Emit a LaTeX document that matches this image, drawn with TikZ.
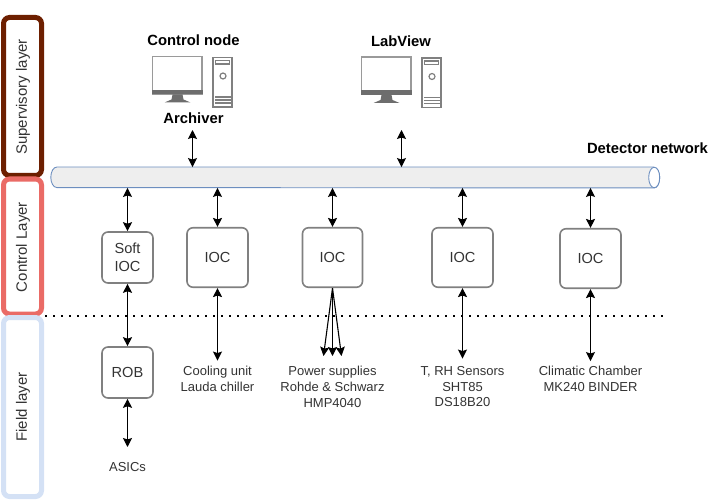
\documentclass[tikz,border=0pt]{standalone}
\usepackage{fontspec}
\setmainfont{Liberation Sans}
\usetikzlibrary{arrows.meta,positioning}
\definecolor{mybrown}{RGB}{109,31,0}
\definecolor{myredlayer}{RGB}{234,107,102}
\definecolor{mybluelayer}{RGB}{212,225,245}
\definecolor{mygray}{RGB}{128,128,128}
\definecolor{mynetfill}{RGB}{238,238,238}
\definecolor{mynetdraw}{RGB}{108,142,191}
\tikzset{
  layerbox/.style = {rectangle, rounded corners=6pt, line width=5pt, fill=white,
                     minimum width=38pt, inner sep=0pt},
  layertext/.style = {rotate=90, font=\fontsize{15}{17}\selectfont, text=black!80},
  devbox/.style = {rectangle, rounded corners=6pt, draw=mygray, line width=1.6pt,
                   align=center, inner sep=0pt, text=black!80,
                   font=\fontsize{14.6}{17.5}\selectfont},
  boldtext/.style = {font=\bfseries\fontsize{14.8}{17}\selectfont},
  devtext/.style = {align=center, text=black!80, font=\fontsize{13}{15.6}\selectfont},
  link/.style = {line width=1.1pt, {Stealth[length=9pt,width=9pt,inset=1.5pt]}-{Stealth[length=9pt,width=9pt,inset=1.5pt]}},
  fanlink/.style = {line width=1.1pt, -{Stealth[length=9pt,width=9pt,inset=1.5pt]}},
  computer/.pic = {
    % monitor
    \draw[mygray!80, line width=1.5pt] (0,0) rectangle (49.5,37.5);
    \fill[mygray!85!black] (-0.5,33.5) rectangle (50,38);
    \fill[mygray!85!black] (20,38) -- (30,38) -- (31,43) -- (38,46) -- (12,46) -- (19,43) -- cycle;
    % tower
    \draw[mygray, line width=1.2pt] (60.5,1) rectangle (79.5,50.5);
    \draw[mygray, line width=1.2pt] (63,4) rectangle (77,7.5);
    \draw[mygray, line width=1.2pt] (70.5,19.5) circle (3);
    \draw[mygray, line width=1.2pt] (62.5,40.5) -- (78,40.5);
    \draw[mygray, line width=1.2pt] (62.5,43.5) -- (78,43.5);
    \draw[mygray, line width=1.2pt] (62.5,46.5) -- (78,46.5);
  }
}
\begin{document}
\begin{tikzpicture}[x=1pt, y=-1pt]
\useasboundingbox (0,0) rectangle (723,500);

%Layers
\node[layerbox, draw=mybrown, minimum height=158pt] (supervisory) at (22.5,96.5) {};
\node[layerbox, draw=myredlayer, minimum height=135pt] (control) at (22.5,246.5) {};
\node[layerbox, draw=mybluelayer, minimum height=179pt] (field) at (22.5,407) {};
\node[layertext] (supervisorytext) at (23,97) {Supervisory layer};
\node[layertext] (controltext) at (23,247) {Control Layer};
\node[layertext] (fieldtext) at (23,407) {Field layer};

%Boundary between control and field
\coordinate (dotsend) at (665,316);
\draw[line width=2pt, dash pattern=on 2pt off 6pt, dash phase=7pt] (field.north east |- dotsend) -- (dotsend);

%Network
\node[rectangle, minimum height=20.5pt, minimum width=597pt, inner sep=0pt] (net) at (355.5,177.5) {};
\draw[draw=mynetdraw, fill=mynetfill, line width=0.9pt] (net.north east) -- (net.north west)
    arc[start angle=90, end angle=270, x radius=6pt, y radius=10.25pt] -- (net.south east)
    arc[start angle=-90, end angle=90, x radius=5.5pt, y radius=10.25pt];
\draw[draw=mynetdraw, fill=white, line width=0.9pt] (net.east) circle[x radius=5.5pt, y radius=10.25pt];
\node[boldtext] (nettext) at (647.5,148) {Detector network};

%Upper part
\pic at (152.5,56.5) {computer};
\pic at (361.5,57) {computer};
\node[boldtext] (controlnode) at (193.5,40) {Control node};
\node[boldtext] (archiver) at (193.5,118.5) {Archiver};
\node[boldtext] (labview) at (401,41) {LabView};
\coordinate (archiverport) at (192.5,130);
\coordinate (labviewport) at (401.5,130);
\draw[link] (archiverport) -- (archiverport |- net.north);
\draw[link] (labviewport) -- (labviewport |- net.north);

%Control layer
\node[devbox, minimum width=51pt, minimum height=51pt] (softioc) at (127.5,257.5) {Soft\\[1pt]IOC};
\node[devbox, minimum width=61pt, minimum height=59.5pt] (ioca) at (217.5,257.5) {IOC};
\node[devbox, minimum width=60pt, minimum height=59.5pt] (iocb) at (332.5,257.5) {IOC};
\node[devbox, minimum width=61pt, minimum height=59.5pt] (iocc) at (462.5,257.5) {IOC};
\node[devbox, minimum width=61pt, minimum height=59.5pt] (iocd) at (590.5,258.5) {IOC};
\foreach \ioc in {softioc,ioca,iocb,iocc,iocd}
  \draw[link] (\ioc.north) -- (\ioc.north |- net.south);

%Field layer
\node[devbox, minimum width=51pt, minimum height=51pt] (rob) at (127.5,372.5) {ROB};
\node[devtext] (asics) at (127.5,467) {ASICs};
\node[devtext, anchor=north] (cooling) at (217.5,363) {Cooling unit\\Lauda chiller};
\node[devtext, anchor=north] (power) at (332.5,363) {Power supplies\\Rohde \& Schwarz\\HMP4040};
\node[devtext, anchor=north] (sensors) at (462.5,363) {T, RH Sensors\\SHT85\\DS18B20};
\node[devtext, anchor=north] (climatic) at (590.5,363) {Climatic Chamber\\MK240 BINDER};

\coordinate (asicsport) at (127.5,447);
\coordinate (powerleft) at (323.5,356);
\coordinate (powermid) at (332.5,356);
\coordinate (powerright) at (341.5,356);
\draw[link] (softioc.south) -- (rob.north);
\draw[link] (rob.south) -- (asicsport);
\draw[link] (ioca.south) -- ++(0,72.5);
\draw[link] (iocc.south) -- ++(0,70.5);
\draw[link] (iocd.south) -- ++(0,72);
\foreach \tip in {powerleft,powermid,powerright}
  \draw[fanlink] (iocb.south) -- (\tip);
\end{tikzpicture}
\end{document}
